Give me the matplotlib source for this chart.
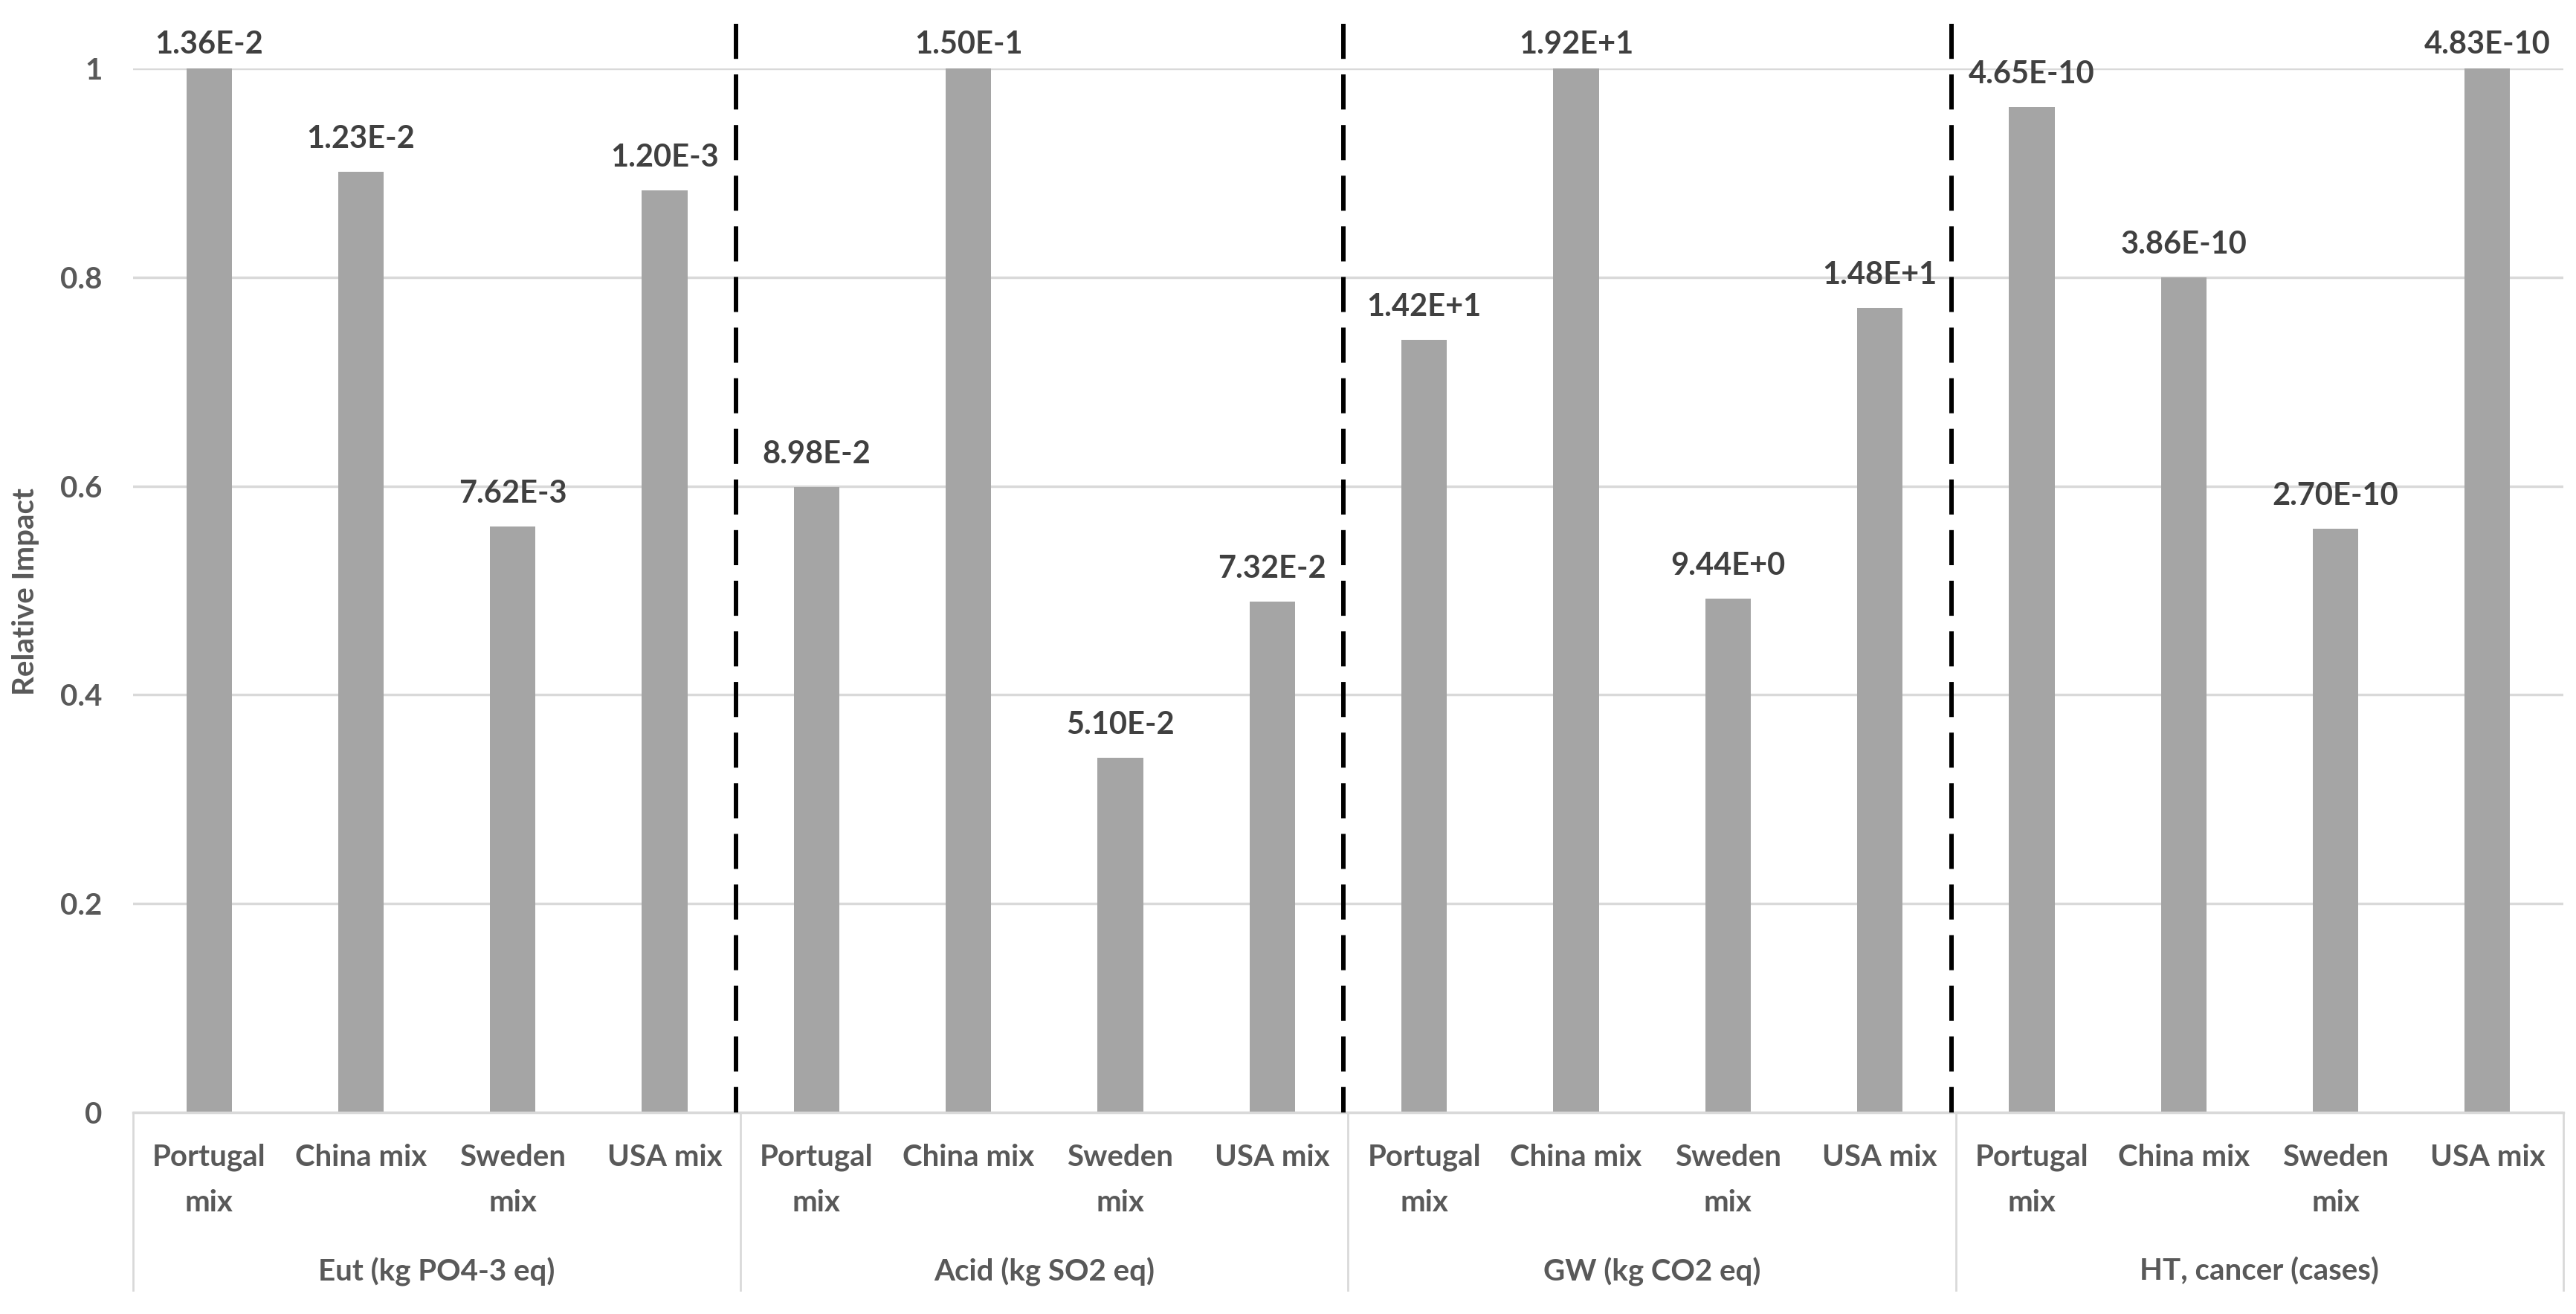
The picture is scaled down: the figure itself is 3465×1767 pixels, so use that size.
import matplotlib.pyplot as plt
from matplotlib.transforms import blended_transform_factory

# data
groups = ["Eut (kg PO4-3 eq)", "Acid (kg SO2 eq)", "GW (kg CO2 eq)", "HT, cancer (cases)"]
mixes = ["Portugal\nmix", "China mix", "Sweden\nmix", "USA mix"]

eut = [1.0, 0.901, 0.561, 0.883]
acid = [0.599, 1.0, 0.340, 0.489]
gw = [0.740, 1.0, 0.492, 0.771]
ht = [0.963, 0.800, 0.559, 1.0]

eut_labels = ["1.36E-2", "1.23E-2", "7.62E-3", "1.20E-3"]
acid_labels = ["8.98E-2", "1.50E-1", "5.10E-2", "7.32E-2"]
gw_labels = ["1.42E+1", "1.92E+1", "9.44E+0", "1.48E+1"]
ht_labels = ["4.65E-10", "3.86E-10", "2.70E-10", "4.83E-10"]

yticks = [0, 0.2, 0.4, 0.6, 0.8, 1]
ylabels = ["0", "0.2", "0.4", "0.6", "0.8", "1"]

values = eut + acid + gw + ht
labels = eut_labels + acid_labels + gw_labels + ht_labels

FONT = "Lato"
AXIS_GREY = "#595959"
LINE_GREY = "#D9D9D9"

fig = plt.figure(figsize=(34.66, 17.67), dpi=100)
ax = fig.add_axes([179 / 3466, 1 - 1496 / 1767, (3448 - 179) / 3466, (1496 - 92) / 1767])

n = len(values)
x = list(range(n))
ax.bar(x, values, width=0.3, color="#A5A5A5", zorder=2)

ax.set_xlim(-0.5, n - 0.5)
ax.set_ylim(0, 1)

ax.set_yticks(yticks)
ax.set_yticklabels(ylabels, fontsize=29, color=AXIS_GREY, fontweight="bold", family=FONT)
ax.tick_params(axis="y", length=0, pad=30)
ax.yaxis.grid(True, color=LINE_GREY, linewidth=2.5, zorder=0)
ax.set_axisbelow(True)

ax.set_xticks(x)
ax.set_xticklabels(mixes * len(groups), fontsize=29, color=AXIS_GREY, fontweight="bold",
                   family=FONT, linespacing=1.8)
ax.tick_params(axis="x", length=0, pad=30)

for s in ["top", "right", "left"]:
    ax.spines[s].set_visible(False)
ax.spines["bottom"].set_color(LINE_GREY)
ax.spines["bottom"].set_linewidth(2.5)

# data labels, kept inside the chart area like excel does
for xi, v, lab in zip(x, values, labels):
    ax.text(xi, min(v + 0.0228, 1.014), lab, ha="center", va="baseline", fontsize=30,
            fontweight="bold", color="#404040", family=FONT, clip_on=False)

# category axis: group boxes and names
trans = blended_transform_factory(ax.transData, ax.transAxes)
bounds = [-0.5 + 4 * i for i in range(len(groups) + 1)]
for b in bounds:
    ax.plot([b, b], [0, -0.170], color=LINE_GREY, linewidth=2, transform=trans, clip_on=False)
for i, g in enumerate(groups):
    ax.text(bounds[i] + 2, -0.161, g, transform=trans, ha="center", va="baseline", fontsize=29,
            fontweight="bold", color=AXIS_GREY, family=FONT)

# dashed separators between the impact categories
for b in bounds[1:-1]:
    ax.plot([b - 0.03, b - 0.03], [1.043, 0], color="black", linewidth=4.3, dashes=(7.9, 3.5),
            clip_on=False, zorder=3)

fig.text(35 / 3466, 1 - 795 / 1767, "Relative Impact", rotation=90, ha="center", va="center",
         fontsize=29, fontweight="bold", color=AXIS_GREY, family=FONT)

fig.savefig("out.png", dpi=100)
